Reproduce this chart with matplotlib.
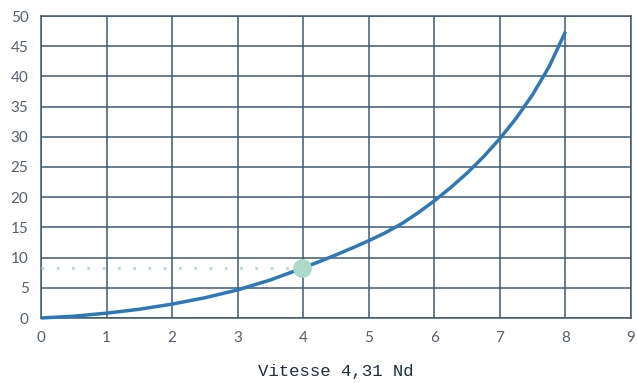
import matplotlib
matplotlib.use("Agg")
import matplotlib.pyplot as plt

# curve
speed = [0, 0.5, 1, 1.5, 2, 2.5, 3, 3.5, 4, 4.25, 4.5, 4.75, 5, 5.25, 5.5, 5.75,
         6, 6.25, 6.5, 6.75, 7, 7.25, 7.5, 7.75, 8]
power = [0, 0.3, 0.8, 1.45, 2.3, 3.35, 4.65, 6.3, 8.3, 9.35, 10.45, 11.6, 12.8, 14.1,
         15.6, 17.4, 19.4, 21.6, 24.0, 26.7, 29.7, 33.1, 37.0, 41.6, 47.4]
point_x = 3.98
point_y = 8.3

xticks = list(range(0, 10))
yticks = list(range(0, 55, 5))

grid_col = "#3f5a72"
tick_col = "#55606c"

fig = plt.figure(figsize=(6.37, 3.83), dpi=100)
ax = fig.add_axes([41 / 637, 65 / 383, 590 / 637, 302 / 383])

ax.set_xlim(0, 9)
ax.set_ylim(0, 50)
ax.set_xticks(xticks)
ax.set_yticks(yticks)
ax.grid(True, color=grid_col, linewidth=1.1)
ax.set_axisbelow(True)
for s in ax.spines.values():
    s.set_color(grid_col)
    s.set_linewidth(1.1)
ax.tick_params(length=0, pad=9, labelsize=11, labelcolor=tick_col)
for lab in ax.get_xticklabels() + ax.get_yticklabels():
    lab.set_fontfamily("Lato")

ax.plot([0, point_x], [point_y, point_y], linestyle=(0, (1, 4.5)), color="#b4ddd0",
        linewidth=2.0, zorder=3, clip_on=False)
ax.plot(speed, power, color="#2f78b8", linewidth=2.5, zorder=4, clip_on=False,
        solid_capstyle="butt", solid_joinstyle="round")
ax.plot([point_x], [point_y], "o", color="#acd9c9", markersize=12.5, zorder=5, clip_on=False)

ax.set_xlabel("Vitesse 4,31 Nd", fontfamily="Liberation Mono", fontsize=12.5,
              color="#1f2f40", labelpad=14)

fig.savefig("out.png", dpi=100)
